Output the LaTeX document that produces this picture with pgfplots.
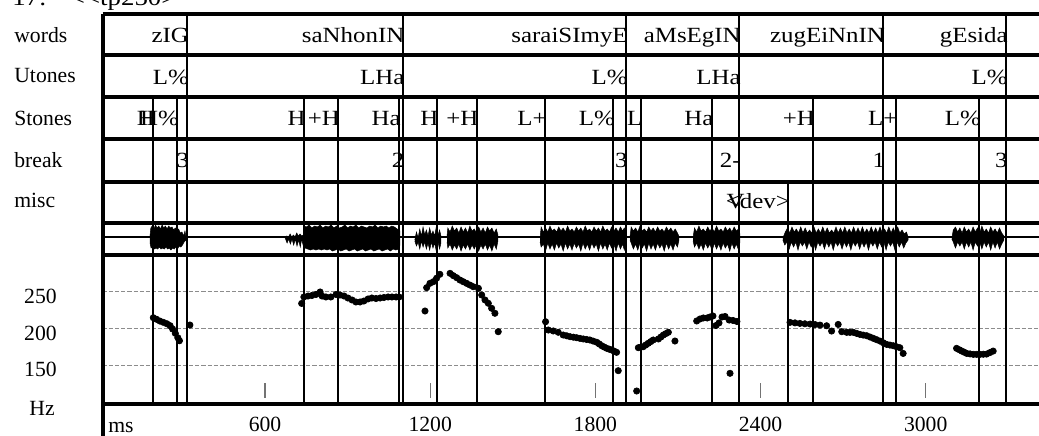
\documentclass[border=0pt]{standalone}
\usepackage{fontspec}
\setmainfont{Liberation Serif}
\newfontfamily\tierfont[FakeStretch=1.15]{Liberation Serif}
\usepackage{pgfplots}
\pgfplotsset{compat=1.18}

% 1 px of the reference = 0.6pt; time axis in ms, tier axis y in px (top down)
\begin{document}
\begin{tikzpicture}[font=\fontsize{13}{15}\selectfont,
    tl/.style={anchor=base east, inner sep=0pt, xshift=1.2pt, font=\fontsize{13}{15}\tierfont}]
\path[use as bounding box] (0pt,0pt) rectangle (623.4pt,-261.6pt);

% ---- F0 panel ----
\begin{axis}[
    at={(61.62pt,-242.4pt)}, anchor=south west,
    width=561.78pt, height=89.4pt, scale only axis,
    xmin=10.2, xmax=3411.5, ymin=97, ymax=300,
    axis line style={draw=none},
    ytick={150,200,250}, ymajorgrids,
    grid style={black!45, line width=0.7pt, dash pattern=on 2.5pt off 1.2pt},
    ytick style={draw=none},
    yticklabel style={anchor=base east, inner sep=0pt, xshift=-27.4pt, yshift=-7pt},
    xtick={600,1200,1800,2400,3000},
    xtick pos=left, tick align=inside, major tick length=9pt,
    xtick style={black!55, line width=0.8pt, yshift=3.6pt},
    xticklabel style={anchor=base, inner sep=0pt, yshift=-16.8pt},
    /pgf/number format/1000 sep={},
    /pgf/number format/assume math mode=true,
]
\addplot[only marks, mark=*, mark size=1.9pt, black] table {
ms hz
194 214.6
206 212.4
218 210.0
230 208.3
243 206.4
255 203.7
264 199.2
274 193.3
283 187.3
289 183.2
327 204.6
733 234.0
741 242.8
756 244.1
770 244.8
785 246.2
800 249.6
807 244.1
821 242.8
839 242.8
858 246.2
872 245.5
887 244.1
901 241.4
916 238.7
930 236.0
945 236.0
959 237.3
974 240.1
988 241.4
1003 240.7
1018 241.4
1032 242.1
1047 242.8
1061 242.8
1076 242.8
1087 242.8
1181 223.7
1187 255.5
1199 261.4
1211 263.6
1223 268.3
1235 273.7
1272 275.0
1284 271.8
1296 269.1
1308 265.9
1320 263.6
1332 261.4
1344 259.1
1356 256.8
1375 254.6
1387 245.5
1399 238.7
1411 234.2
1423 227.4
1435 220.6
1447 195.5
1619 209.1
1629 197.8
1647 196.5
1665 194.7
1683 191.0
1696 189.9
1708 188.7
1720 188.0
1732 187.3
1744 186.4
1756 185.6
1768 184.9
1780 184.2
1792 182.7
1805 181.1
1814 178.8
1823 176.4
1832 174.6
1841 172.9
1850 171.7
1859 170.6
1868 169.0
1877 167.4
1883 142.4
1950 114.7
1956 173.7
1965 174.4
1974 175.1
1983 177.4
1992 179.7
2001 182.0
2010 184.2
2029 185.6
2038 188.3
2047 191.0
2056 192.9
2065 194.7
2089 182.8
2168 210.1
2180 212.8
2192 214.2
2206 214.2
2216 215.5
2227 216.9
2238 203.9
2249 207.4
2260 215.5
2271 216.2
2286 211.4
2300 210.8
2314 209.4
2289 138.8
2507 208.2
2525 207.5
2543 206.8
2561 206.3
2580 205.9
2598 205.2
2616 204.5
2640 203.6
2658 196.4
2682 205.4
2695 195.5
2713 194.6
2725 194.6
2737 194.6
2749 193.2
2761 191.8
2773 190.9
2786 190.0
2798 188.2
2810 186.4
2822 184.6
2834 182.7
2846 180.4
2858 178.2
2870 177.3
2882 176.4
2894 175.0
2906 173.7
2918 165.9
3112 172.8
3122 170.9
3131 169.1
3140 167.5
3149 165.9
3161 165.2
3173 164.6
3185 164.6
3197 164.6
3209 164.8
3221 165.0
3233 167.0
3245 169.1
};
\end{axis}

% ---- tiers, waveform and boundaries ----
\begin{axis}[
    at={(61.62pt,-242.4pt)}, anchor=south west,
    width=561.78pt, height=234pt, scale only axis,
    xmin=10.2, xmax=3411.5, ymin=14, ymax=404, y dir=reverse,
    hide axis, clip=false,
]
% waveform envelopes (ms, px)
\addplot[fill=black, draw=black, line width=0.3pt] coordinates {
(182,236) (185,228) (190,226) (196,229) (202,225) (208,228) (214,226) (220,229) (226,225) (232,228) (238,226) (244,229) (250,226) (256,228) (262,227) (268,230) (274,228) (280,231) (286,229) (292,233) (298,232) (304,236) (309,231) (313,237)
(313,240) (306,242) (300,245) (294,247) (288,246) (282,249) (276,247) (270,249) (264,248) (258,250) (252,248) (246,249) (240,247) (234,249) (228,248) (222,249) (216,247) (210,249) (204,248) (198,249) (192,247) (186,248) (182,243)};
\addplot[fill=black, draw=black, line width=0.3pt] coordinates {
(673,237) (679,236) (685,237) (691,234) (697,237) (703,235) (709,237) (715,233) (721,236) (727,234) (733,236) (739,235)
(739,246) (733,239) (728,247) (722,240) (716,246) (710,239) (704,245) (698,239) (692,244) (686,239) (680,243) (673,238)};
\addplot[fill=black, draw=black, line width=0.3pt] coordinates {
(739,238) (741,226) (750,227) (760,225) (770,228) (780,226) (790,227) (800,225) (810,228) (820,226) (830,227) (840,225) (850,228) (860,226) (870,228) (880,227) (890,225) (900,228) (910,226) (920,227) (930,225) (940,228) (950,226) (960,227) (970,228) (980,226) (990,227) (1000,225) (1010,228) (1020,226) (1030,227) (1040,226) (1050,228) (1060,226) (1070,227) (1080,229) (1090,231)
(1090,245) (1085,249) (1075,250) (1065,249) (1055,251) (1045,249) (1035,250) (1025,251) (1015,249) (1005,250) (995,251) (985,249) (975,250) (965,251) (955,249) (945,250) (935,251) (925,249) (915,250) (905,251) (895,249) (885,250) (875,251) (865,249) (855,250) (845,251) (835,249) (825,250) (815,249) (805,250) (795,249) (785,250) (775,249) (765,250) (755,249) (745,248) (739,244)};
\addplot[fill=black, draw=black, line width=0.3pt] coordinates {
(1144,240) (1150,232) (1156,238) (1162,229) (1168,236) (1174,227) (1180,235) (1186,230) (1192,236) (1198,228) (1204,235) (1210,231) (1216,236) (1222,227) (1228,235) (1234,230) (1239,236)
(1239,243) (1234,249) (1228,242) (1222,251) (1216,243) (1210,248) (1204,242) (1198,250) (1192,243) (1186,249) (1180,242) (1174,247) (1168,241) (1162,249) (1156,242) (1150,246) (1144,241)};
\addplot[fill=black, draw=black, line width=0.3pt] coordinates {
(1261,236) (1264,228) (1272,232) (1280,226) (1288,231) (1296,228) (1304,233) (1312,227) (1320,232) (1328,228) (1336,233) (1344,226) (1352,231) (1360,229) (1368,233) (1376,227) (1384,232) (1392,228) (1400,233) (1408,227) (1416,231) (1424,228) (1432,233) (1440,229) (1446,235)
(1446,241) (1440,249) (1432,244) (1424,251) (1416,245) (1408,250) (1400,244) (1392,249) (1384,245) (1376,251) (1368,244) (1360,249) (1352,245) (1344,250) (1336,244) (1328,249) (1320,245) (1312,251) (1304,244) (1296,249) (1288,245) (1280,250) (1272,244) (1264,248) (1261,242)};
\addplot[fill=black, draw=black, line width=0.3pt] coordinates {
(1599,238) (1603,227) (1611,232) (1619,228) (1627,232) (1635,226) (1643,231) (1651,229) (1659,232) (1667,227) (1675,231) (1683,228) (1691,232) (1699,226) (1707,231) (1715,229) (1723,232) (1731,227) (1739,231) (1747,228) (1755,232) (1763,226) (1771,231) (1779,229) (1787,232) (1795,227) (1803,231) (1811,228) (1819,232) (1827,226) (1835,231) (1843,229) (1851,232) (1859,227) (1867,231) (1875,228) (1883,232) (1891,227) (1899,231) (1905,228) (1911,233)
(1911,243) (1905,250) (1899,244) (1891,249) (1883,243) (1875,251) (1867,244) (1859,248) (1851,243) (1843,250) (1835,244) (1827,249) (1819,243) (1811,251) (1803,244) (1795,248) (1787,243) (1779,250) (1771,244) (1763,249) (1755,243) (1747,251) (1739,244) (1731,248) (1723,243) (1715,250) (1707,244) (1699,249) (1691,243) (1683,251) (1675,244) (1667,248) (1659,243) (1651,250) (1643,244) (1635,249) (1627,243) (1619,251) (1611,244) (1603,247) (1599,242)};
\addplot[fill=black, draw=black, line width=0.3pt] coordinates {
(1926,236) (1930,227) (1938,231) (1946,228) (1954,232) (1962,226) (1970,231) (1978,229) (1986,232) (1994,227) (2002,231) (2010,228) (2018,232) (2026,227) (2034,231) (2042,229) (2050,232) (2058,227) (2066,231) (2074,228) (2082,232) (2090,229) (2098,233) (2103,236)
(2103,241) (2098,247) (2090,243) (2082,250) (2074,244) (2066,249) (2058,243) (2050,251) (2042,244) (2034,248) (2026,243) (2018,250) (2010,244) (2002,249) (1994,243) (1986,251) (1978,244) (1970,248) (1962,243) (1954,250) (1946,244) (1938,249) (1930,243) (1926,240)};
\addplot[fill=black, draw=black, line width=0.3pt] coordinates {
(2155,237) (2160,228) (2168,232) (2176,226) (2184,231) (2192,229) (2200,232) (2208,227) (2216,231) (2224,228) (2232,232) (2240,226) (2248,231) (2256,229) (2264,232) (2272,227) (2280,231) (2288,228) (2296,232) (2304,227) (2312,231) (2320,229) (2325,234)
(2325,242) (2320,250) (2312,244) (2304,249) (2296,243) (2288,251) (2280,244) (2272,248) (2264,243) (2256,250) (2248,244) (2240,249) (2232,243) (2224,251) (2216,244) (2208,248) (2200,243) (2192,250) (2184,244) (2176,249) (2168,243) (2160,247) (2155,241)};
\addplot[fill=black, draw=black, line width=0.3pt] coordinates {
(2481,238) (2490,232) (2498,228) (2506,233) (2514,227) (2522,232) (2530,229) (2538,233) (2546,227) (2554,233) (2562,228) (2570,233) (2578,230) (2586,233) (2594,227) (2602,233) (2610,229) (2618,233) (2626,227) (2634,233) (2642,228) (2650,233) (2658,230) (2666,233) (2674,227) (2682,233) (2690,228) (2698,233) (2706,227) (2714,233) (2722,229) (2730,233) (2738,227) (2746,233) (2754,228) (2762,233) (2770,227) (2778,233) (2786,229) (2794,233) (2802,227) (2810,233) (2818,228) (2826,233) (2834,227) (2842,233) (2850,229) (2858,233) (2866,227) (2874,233) (2882,228) (2890,233) (2898,227) (2906,233) (2914,230) (2922,234) (2930,232) (2936,237)
(2936,240) (2928,243) (2920,248) (2912,242) (2904,247) (2896,242) (2888,250) (2880,242) (2872,246) (2864,242) (2856,250) (2848,242) (2840,247) (2832,242) (2824,249) (2816,242) (2808,246) (2800,242) (2792,250) (2784,242) (2776,247) (2768,242) (2760,249) (2752,242) (2744,246) (2736,242) (2728,250) (2720,242) (2712,247) (2704,242) (2696,249) (2688,242) (2680,246) (2672,242) (2664,250) (2656,242) (2648,247) (2640,242) (2632,249) (2624,242) (2616,246) (2608,242) (2600,250) (2592,242) (2584,247) (2576,242) (2568,249) (2560,242) (2552,246) (2544,242) (2536,250) (2528,242) (2520,247) (2512,242) (2504,249) (2496,242) (2488,245) (2481,240)};
\addplot[fill=black, draw=black, line width=0.3pt] coordinates {
(3095,238) (3100,230) (3108,227) (3116,232) (3124,228) (3132,233) (3140,227) (3148,232) (3156,229) (3164,233) (3172,227) (3180,232) (3188,228) (3196,233) (3204,226) (3212,232) (3220,229) (3228,233) (3236,227) (3244,232) (3252,229) (3260,233) (3268,228) (3276,233) (3284,236)
(3284,240) (3276,244) (3268,249) (3260,242) (3252,248) (3244,242) (3236,250) (3228,242) (3220,247) (3212,242) (3204,249) (3196,242) (3188,246) (3180,242) (3172,250) (3164,242) (3156,247) (3148,242) (3140,249) (3132,242) (3124,246) (3116,242) (3108,248) (3100,242) (3095,239)};

% horizontal frame lines
\pgfplotsinvokeforeach{14,55,97,139,182,223,255,404}{
  \draw[line width=2.2pt] (axis cs:10.2,#1) -- (axis cs:3411.5,#1);
}
\draw[line width=1.2pt] (axis cs:10.2,236.5) -- (axis cs:3411.5,236.5);

% boundary marks: words (from top), tones (from Stones row), misc
\addplot[black, line width=1.2pt, unbounded coords=jump] coordinates {
(317.5,14) (317.5,404) (317.5,nan)
(1100.0,14) (1100.0,404) (1100.0,nan)
(1911.2,14) (1911.2,404) (1911.2,nan)
(2321.7,14) (2321.7,404) (2321.7,nan)
(2845.9,14) (2845.9,404) (2845.9,nan)
(3291.6,14) (3291.6,404) (3291.6,nan)
(194.0,97) (194.0,404) (194.0,nan)
(281.2,97) (281.2,404) (281.2,nan)
(741.4,97) (741.4,404) (741.4,nan)
(866.0,97) (866.0,404) (866.0,nan)
(1086.5,97) (1086.5,404) (1086.5,nan)
(1223.5,97) (1223.5,404) (1223.5,nan)
(1368.8,97) (1368.8,404) (1368.8,nan)
(1616.9,97) (1616.9,404) (1616.9,nan)
(1865.0,97) (1865.0,404) (1865.0,nan)
(1964.6,97) (1964.6,404) (1964.6,nan)
(2222.5,97) (2222.5,404) (2222.5,nan)
(2591.6,97) (2591.6,404) (2591.6,nan)
(2890.9,97) (2890.9,404) (2890.9,nan)
(3194.6,97) (3194.6,404) (3194.6,nan)
(2500.8,182) (2500.8,404)
};

% words
\node[tl] at (axis cs:317.5,42) {zIG};
\node[tl] at (axis cs:1100.0,42) {saNhonIN};
\node[tl] at (axis cs:1911.2,42) {saraiSImyE};
\node[tl] at (axis cs:2321.7,42) {aMsEgIN};
\node[tl] at (axis cs:2845.9,42) {zugEiNnIN};
\node[tl] at (axis cs:3291.6,42) {gEsida};
% Utones
\node[tl] at (axis cs:317.5,84) {L\%};
\node[tl] at (axis cs:1100.0,84) {LHa};
\node[tl] at (axis cs:1911.2,84) {L\%};
\node[tl] at (axis cs:2321.7,84) {LHa};
\node[tl] at (axis cs:3291.6,84) {L\%};
% Stones
\node[tl] at (axis cs:194.0,125) {H};
\node[tl] at (axis cs:281.2,125) {H\%};
\node[tl] at (axis cs:741.4,125) {H};
\node[tl] at (axis cs:866.0,125) {+H};
\node[tl] at (axis cs:1086.5,125) {Ha};
\node[tl] at (axis cs:1223.5,125) {H};
\node[tl] at (axis cs:1368.8,125) {+H};
\node[tl] at (axis cs:1616.9,125) {L+};
\node[tl] at (axis cs:1865.0,125) {L\%};
\node[tl] at (axis cs:1964.6,125) {L};
\node[tl] at (axis cs:2222.5,125) {Ha};
\node[tl] at (axis cs:2591.6,125) {+H};
\node[tl] at (axis cs:2890.9,125) {L+};
\node[tl] at (axis cs:3194.6,125) {L\%};
% break
\node[tl] at (axis cs:317.5,167) {3};
\node[tl] at (axis cs:1100.0,167) {2};
\node[tl] at (axis cs:1911.2,167) {3};
\node[tl] at (axis cs:2321.7,167) {2-};
\node[tl] at (axis cs:2845.9,167) {1};
\node[tl] at (axis cs:3291.6,167) {3};
% misc
\node[tl] at (axis cs:2500.8,208) {\textless dev\textgreater};
\node[tl, anchor=base west, xshift=0pt] at (axis cs:2268,208) {V};
\end{axis}

% left border and text outside the frame
\draw[line width=2.4pt] (61.62pt,-8.4pt) -- (61.62pt,-261.6pt);
\node[anchor=base west, inner sep=0pt, font=\fontsize{14}{16}\tierfont] at (7.2pt,-3.6pt) {17:\hspace{14pt}\textless\textless tp250\textgreater};
\node[anchor=base west, inner sep=0pt] at (8.4pt,-25.8pt) {words};
\node[anchor=base west, inner sep=0pt] at (8.4pt,-49.8pt) {Utones};
\node[anchor=base west, inner sep=0pt] at (8.4pt,-75.6pt) {Stones};
\node[anchor=base west, inner sep=0pt] at (8.4pt,-100.8pt) {break};
\node[anchor=base west, inner sep=0pt] at (8.4pt,-124.8pt) {misc};
\node[anchor=base east, inner sep=0pt] at (33pt,-249pt) {Hz};
\node[anchor=base west, inner sep=0pt] at (64.8pt,-259.2pt) {ms};
\end{tikzpicture}
\end{document}
